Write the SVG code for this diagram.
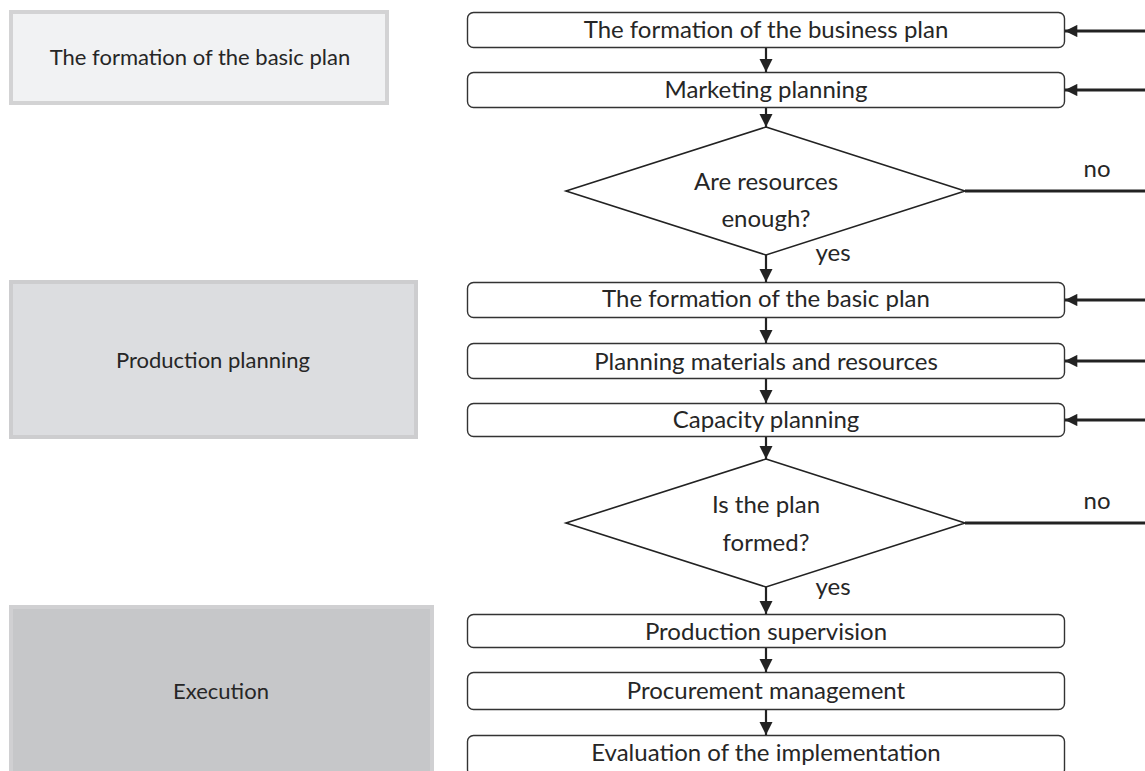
<svg xmlns="http://www.w3.org/2000/svg" width="1145" height="771" viewBox="0 0 1145 771">
<defs>
<style>
.lbox{stroke-width:4}
.lt{font-family:Lato,"Open Sans","Liberation Sans",sans-serif;font-size:22px;fill:#262626;text-anchor:middle}
.fb{fill:#fff;stroke:#333;stroke-width:1.4}
.ft{font-family:Lato,"Open Sans","Liberation Sans",sans-serif;font-size:24px;fill:#262626;text-anchor:middle}
.dm{fill:#fff;stroke:#222;stroke-width:1.6}
.cv{stroke:#222;stroke-width:2.2;fill:none}
.ch{stroke:#222;stroke-width:2.8;fill:none}
</style>
<marker id="ad" viewBox="0 0 10 10" refX="10" refY="5" markerWidth="6" markerHeight="6" markerUnits="strokeWidth" orient="auto">
<path d="M0,0 L10,5 L0,10 z" fill="#222"/>
</marker>
<marker id="ah" viewBox="0 0 10 10" refX="10" refY="5" markerWidth="4.8" markerHeight="4.4" markerUnits="strokeWidth" orient="auto">
<path d="M0,0 L10,5 L0,10 z" fill="#222"/>
</marker>
</defs>
<rect width="1145" height="771" fill="#fff"/>

<g id="stage-basic">
<rect class="lbox" x="11" y="12" width="376" height="91" fill="#f1f2f3" stroke="#d3d3d4"/>
<text class="lt" x="200" y="65">The formation of the basic plan</text>
</g>
<g id="stage-production">
<rect class="lbox" x="11" y="282" width="405" height="155" fill="#dcdde0" stroke="#cdcdcf"/>
<text class="lt" x="213" y="368">Production planning</text>
</g>
<g id="stage-execution">
<rect class="lbox" x="11" y="607" width="421" height="170" fill="#c6c7c9" stroke="#d0d0d2"/>
<text class="lt" x="221" y="699">Execution</text>
</g>

<g id="n-business">
<rect class="fb" x="467.5" y="12.5" width="597" height="35" rx="6"/>
<text class="ft" x="766" y="38">The formation of the business plan</text>
</g>
<g id="n-marketing">
<rect class="fb" x="467.5" y="72.5" width="597" height="35" rx="6"/>
<text class="ft" x="766" y="98">Marketing planning</text>
</g>
<g id="d-resources">
<polygon class="dm" points="766,127 965,191 766,255 566,191"/>
<text class="ft" x="766" y="190">Are resources</text>
<text class="ft" x="766" y="227">enough?</text>
</g>
<g id="n-basic">
<rect class="fb" x="467.5" y="282.5" width="597" height="35" rx="6"/>
<text class="ft" x="766" y="307">The formation of the basic plan</text>
</g>
<g id="n-materials">
<rect class="fb" x="467.5" y="343.5" width="597" height="35" rx="6"/>
<text class="ft" x="766" y="370">Planning materials and resources</text>
</g>
<g id="n-capacity">
<rect class="fb" x="467.5" y="403.5" width="597" height="33" rx="6"/>
<text class="ft" x="766" y="428">Capacity planning</text>
</g>
<g id="d-plan">
<polygon class="dm" points="766,459 965,523 766,587 566,523"/>
<text class="ft" x="766" y="513">Is the plan</text>
<text class="ft" x="766" y="551">formed?</text>
</g>
<g id="n-supervision">
<rect class="fb" x="467.5" y="614.5" width="597" height="33" rx="6"/>
<text class="ft" x="766" y="640">Production supervision</text>
</g>
<g id="n-procurement">
<rect class="fb" x="467.5" y="672.5" width="597" height="37" rx="6"/>
<text class="ft" x="766" y="699">Procurement management</text>
</g>
<g id="n-evaluation">
<rect class="fb" x="467.5" y="735.5" width="597" height="40" rx="6"/>
<text class="ft" x="766" y="761">Evaluation of the implementation</text>
</g>

<g id="connectors">
<line class="cv" x1="766" y1="48" x2="766" y2="72" marker-end="url(#ad)"/>
<line class="cv" x1="766" y1="108" x2="766" y2="127" marker-end="url(#ad)"/>
<line class="cv" x1="766" y1="255" x2="766" y2="282" marker-end="url(#ad)"/>
<line class="cv" x1="766" y1="318" x2="766" y2="343" marker-end="url(#ad)"/>
<line class="cv" x1="766" y1="379" x2="766" y2="403" marker-end="url(#ad)"/>
<line class="cv" x1="766" y1="437" x2="766" y2="459" marker-end="url(#ad)"/>
<line class="cv" x1="766" y1="587" x2="766" y2="614" marker-end="url(#ad)"/>
<line class="cv" x1="766" y1="648" x2="766" y2="672" marker-end="url(#ad)"/>
<line class="cv" x1="766" y1="710" x2="766" y2="735" marker-end="url(#ad)"/>
<line class="ch" x1="1145" y1="31" x2="1065" y2="31" marker-end="url(#ah)"/>
<line class="ch" x1="1145" y1="90" x2="1065" y2="90" marker-end="url(#ah)"/>
<line class="ch" x1="1145" y1="300" x2="1065" y2="300" marker-end="url(#ah)"/>
<line class="ch" x1="1145" y1="361" x2="1065" y2="361" marker-end="url(#ah)"/>
<line class="ch" x1="1145" y1="420" x2="1065" y2="420" marker-end="url(#ah)"/>
<line class="ch" x1="965" y1="191" x2="1145" y2="191"/>
<line class="ch" x1="965" y1="523" x2="1145" y2="523"/>
<text class="ft" x="1097" y="177">no</text>
<text class="ft" x="1097" y="509">no</text>
<text class="ft" x="833" y="261">yes</text>
<text class="ft" x="833" y="595">yes</text>
</g>
</svg>
